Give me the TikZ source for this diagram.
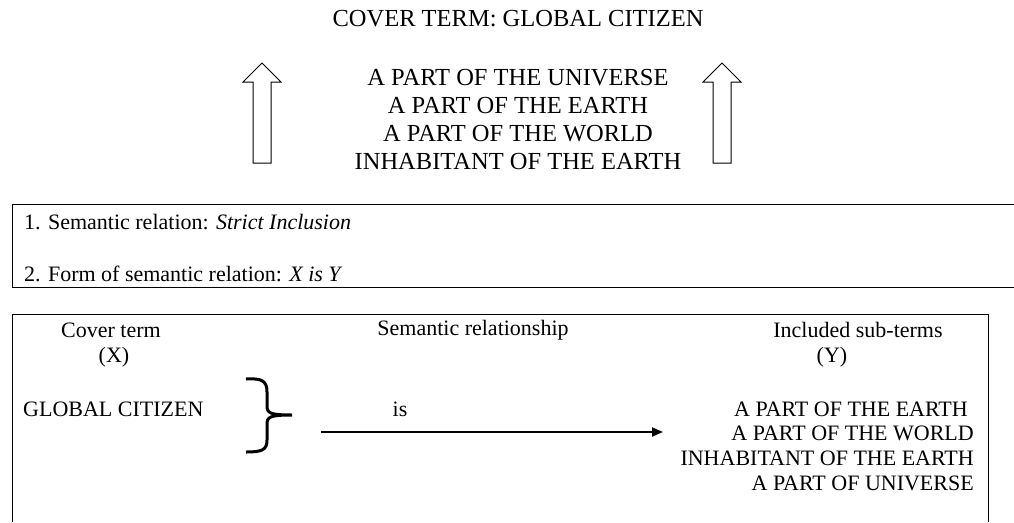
\documentclass[tikz,border=0pt]{standalone}
\usepackage{fontspec}
\setmainfont{Liberation Serif}
\usetikzlibrary{arrows.meta}
\begin{document}
\begin{tikzpicture}[x=1pt,y=-1pt,
  big/.style={font=\fontsize{24.5}{28}\selectfont, inner sep=0pt, align=center},
  mid/.style={font=\fontsize{22}{26}\selectfont, inner sep=0pt, anchor=west},
  low/.style={font=\fontsize{22}{24.6}\selectfont, inner sep=0pt},
  frame/.style={line width=0.9pt},
  hollow/.style={line width=1pt, fill=white},
  bracestyle/.style={line width=3pt},
  conn/.style={line width=1.8pt, -{Triangle[length=11pt,width=9pt]}},
]
\useasboundingbox (0,0) rectangle (1014,522);
% top part
\node[big] (title) at (518,19) {COVER TERM: GLOBAL CITIZEN};
\node[big] (stack) at (518,120) {A PART OF THE UNIVERSE\\A PART OF THE EARTH\\A PART OF THE WORLD\\INHABITANT OF THE EARTH};
\draw[hollow] (253,163) -- (253,82) -- (243,82) -- (262,63) -- (281,82) -- (271,82) -- (271,163) -- cycle;
\draw[hollow] (713,163) -- (713,82) -- (703,82) -- (722,63) -- (741,82) -- (731,82) -- (731,163) -- cycle;
% middle box
\draw[frame] (1014,204) -- (12,204) -- (12,287) -- (1014,287);
\node[mid] (rel1) at (24,222) {1. Semantic relation: \textit{Strict Inclusion}};
\node[mid] (rel2) at (24,274) {2. Form of semantic relation: \textit{X is Y}};
% lower box
\draw[frame] (12,522) -- (12,314) -- (988,314) -- (988,522);
\node[low] (cover) at (111,330) {Cover term};
\node[low] (coverx) at (114,357) {(X)};
\node[low] (semrel) at (473,330) {Semantic relationship};
\node[low] (incl) at (858,330) {Included sub-terms};
\node[low] (incly) at (832,357) {(Y)};
\node[low, anchor=west] (gc) at (23,409) {GLOBAL CITIZEN};
\node[low] (is) at (400,409) {is};
\node[low, anchor=east, align=right] (subs) at (974,446) {A PART OF THE EARTH\hspace*{6pt}\\A PART OF THE WORLD\\INHABITANT OF THE EARTH\\A PART OF UNIVERSE};
\draw[bracestyle] (246,379) .. controls (262,378) and (267,381) .. (267,392) -- (267,406)
  .. controls (267,413) and (270,415) .. (292,415)
  .. controls (270,415) and (267,417) .. (267,424) -- (267,440)
  .. controls (267,450) and (262,452) .. (246,452);
\coordinate (as) at (321,432);
\coordinate (ae) at (663,432);
\draw[conn] (as) -- (ae);
\end{tikzpicture}
\end{document}
